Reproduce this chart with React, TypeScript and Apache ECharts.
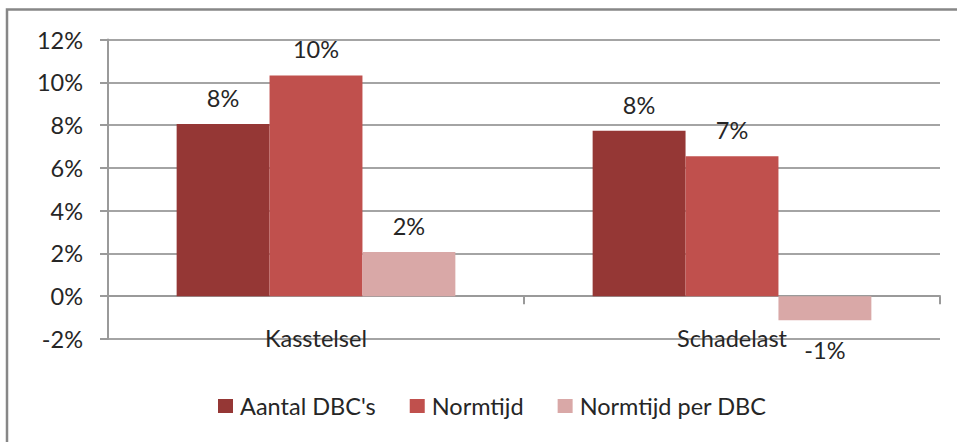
import React, { useEffect, useRef } from "react";
import * as echarts from "echarts";

const categories = ["Kasstelsel", "Schadelast"];
const seriesNames = ["Aantal DBC's", "Normtijd", "Normtijd per DBC"];
const aantalDbc = [8.05, 7.74];
const normtijd = [10.32, 6.54];
const normtijdPerDbc = [2.07, -1.12];
const yTicks = { min: -2, max: 12, interval: 2 };
const colors = ["#953735", "#C0504D", "#D9A8A7"];

const FONT = "Lato";
const FS = 23.5;

export default function App() {
  const ref = useRef<HTMLDivElement>(null);
  useEffect(() => {
    document.body.style.margin = "0";
    const chart = echarts.init(ref.current!, null, { renderer: "svg" });
    const values = [aantalDbc, normtijd, normtijdPerDbc];
    const mkSeries = (name: string, vals: number[], color: string) => ({
      name,
      type: "bar",
      xAxisIndex: 0,
      barGap: "0%",
      barCategoryGap: "33%",
      itemStyle: { color },
      data: vals.map((v) => ({
        value: v,
        label: {
          show: true,
          position: v < 0 ? "bottom" : "top",
          distance: v < 0 ? 18 : 14,
          formatter: Math.round(v) + "%",
          fontFamily: FONT,
          fontSize: FS,
          color: "#262626",
        },
      })),
    });
    chart.setOption({
      animation: false,
      backgroundColor: "#ffffff",
      textStyle: { fontFamily: FONT },
      grid: { left: 108, right: 17, top: 39.5, bottom: 103, containLabel: false },
      legend: {
        left: 213,
        top: 389,
        itemWidth: 15,
        itemHeight: 14,
        itemGap: 34,
        icon: "rect",
        textStyle: { fontFamily: FONT, fontSize: FS, color: "#262626", padding: [0, 0, 0, 2] },
        data: seriesNames,
      },
      xAxis: [
        {
          type: "category",
          data: categories,
          axisLine: { onZero: true, lineStyle: { color: "#9a9a9a", width: 2 } },
          axisTick: { show: true, length: 8, lineStyle: { color: "#9a9a9a", width: 2 } },
          axisLabel: { show: false },
        },
        {
          type: "category",
          data: categories,
          position: "bottom",
          axisLine: { show: false, onZero: false },
          axisTick: { show: false },
          axisLabel: {
            show: true,
            margin: -13,
            fontFamily: FONT,
            fontSize: FS,
            color: "#262626",
          },
        },
      ],
      yAxis: {
        type: "value",
        min: yTicks.min,
        max: yTicks.max,
        interval: yTicks.interval,
        axisLine: { show: true, lineStyle: { color: "#9a9a9a", width: 2 } },
        axisTick: { show: true, length: 8, lineStyle: { color: "#9a9a9a", width: 2 } },
        splitLine: { lineStyle: { color: "#a4a4a4", width: 2 } },
        axisLabel: {
          formatter: "{value}%",
          margin: 25,
          fontFamily: FONT,
          fontSize: FS,
          color: "#262626",
        },
      },
      graphic: [
        {
          type: "rect",
          shape: { x: 7, y: 9.5, width: 1000, height: 500 },
          style: { fill: "none", stroke: "#878787", lineWidth: 2.5 },
          z: 100,
        },
      ],
      series: seriesNames.map((n, i) => mkSeries(n, values[i], colors[i])),
    });
    return () => chart.dispose();
  }, []);
  return (
    <div
      ref={ref}
      style={{ position: "absolute", left: 0, top: 0, width: 957, height: 442 }}
    />
  );
}
